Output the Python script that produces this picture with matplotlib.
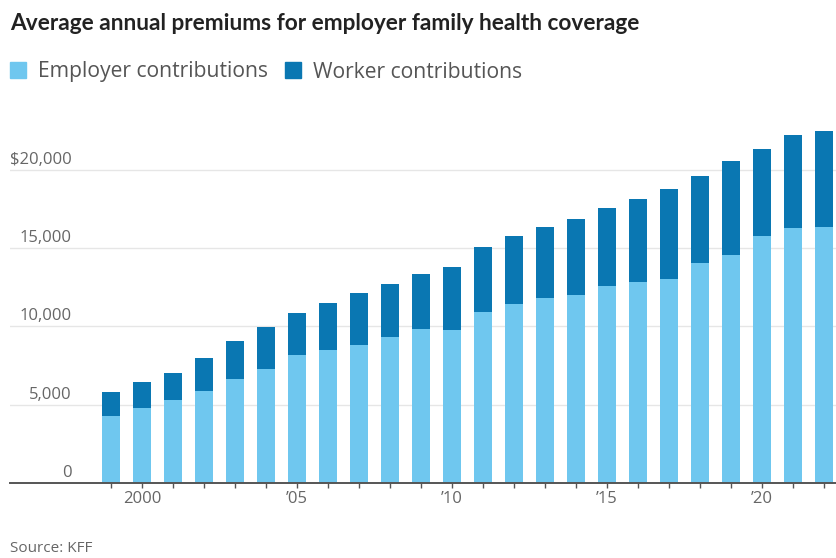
import matplotlib
matplotlib.use("Agg")
import matplotlib.pyplot as plt
from matplotlib.patches import Patch
import matplotlib.transforms as mtrans

years = list(range(1999, 2023))
employer = [4247, 4819, 5269, 5866, 6657, 7289, 8167, 8508, 8824, 9325, 9860, 9773,
            10944, 11429, 11786, 12011, 12591, 12865, 13049, 14069, 14561, 15754, 16253, 16357]
worker = [1543, 1619, 1787, 2137, 2412, 2661, 2713, 2973, 3281, 3354, 3515, 3997,
          4129, 4316, 4565, 4823, 4955, 5277, 5714, 5547, 6015, 5588, 5969, 6106]
ytick_vals = [0, 5000, 10000, 15000, 20000]
ytick_labels = ["0", "5,000", "10,000", "15,000", "$20,000"]
xtick_vals = [2000, 2005, 2010, 2015, 2020]
xtick_labels = ["2000", "\u201905", "\u201910", "\u201915", "\u201920"]

light = "#6fc7ef"
dark = "#0a77b2"
txt = "#666666"

W, H = 837, 558
fig = plt.figure(figsize=(W / 100, H / 100), dpi=100)
ax = fig.add_axes([10 / W, 1 - 483 / H, 1 - 10 / W, (483 - 110) / H])

ax.bar(years, employer, width=0.58, color=light, zorder=3)
ax.bar(years, worker, bottom=employer, width=0.58, color=dark, zorder=3)

ax.set_xlim(1995.74, 2022.42)
ax.set_ylim(0, (483 - 110) / 0.01566)

for s in ["top", "right", "left"]:
    ax.spines[s].set_visible(False)
ax.spines["bottom"].set_color("#555555")
ax.spines["bottom"].set_linewidth(1.4)
ax.spines["bottom"].set_zorder(4)

ax.set_yticks(ytick_vals)
ax.set_yticklabels([])
ax.tick_params(axis="y", length=0)
ax.grid(axis="y", color="#e6e6e6", linewidth=1, zorder=0)

# y tick labels above the gridlines, right-aligned
trans = mtrans.blended_transform_factory(fig.transFigure, ax.transData)
off = mtrans.ScaledTranslation(0, 10 / 100, fig.dpi_scale_trans)
for v, lab in zip(ytick_vals, ytick_labels):
    fig.text(72 / W, v, lab, transform=trans + off, ha="right", va="center",
             fontsize=12, color=txt, family="Open Sans")

ax.set_xticks(years, minor=True)
ax.set_xticks(xtick_vals)
ax.set_xticklabels(xtick_labels, fontsize=12, color=txt, family="Open Sans")
ax.tick_params(axis="x", which="both", length=3.5, width=1, color="#555555", pad=2.5)

fig.text(10 / W, 1 - 23 / H, "Average annual premiums for employer family health coverage",
         ha="left", va="center", fontsize=16.3, fontweight="bold", color="#222222", family="Lato")

handles = [Patch(color=light), Patch(color=dark)]
leg = fig.legend(handles, ["Employer contributions", "Worker contributions"],
                 loc="center left", bbox_to_anchor=(10 / W, 1 - 72 / H), ncol=2,
                 frameon=False, handlelength=0.75, handleheight=0.75,
                 handletextpad=0.56, columnspacing=0.84, borderpad=0, borderaxespad=0,
                 prop={"family": "Open Sans", "size": 15.2})
for t in leg.get_texts():
    t.set_color("#555555")

fig.text(10 / W, 1 - 549 / H, "Source: KFF", ha="left", va="center",
         fontsize=11, color=txt, family="Open Sans")

fig.savefig("out.png", dpi=100)
